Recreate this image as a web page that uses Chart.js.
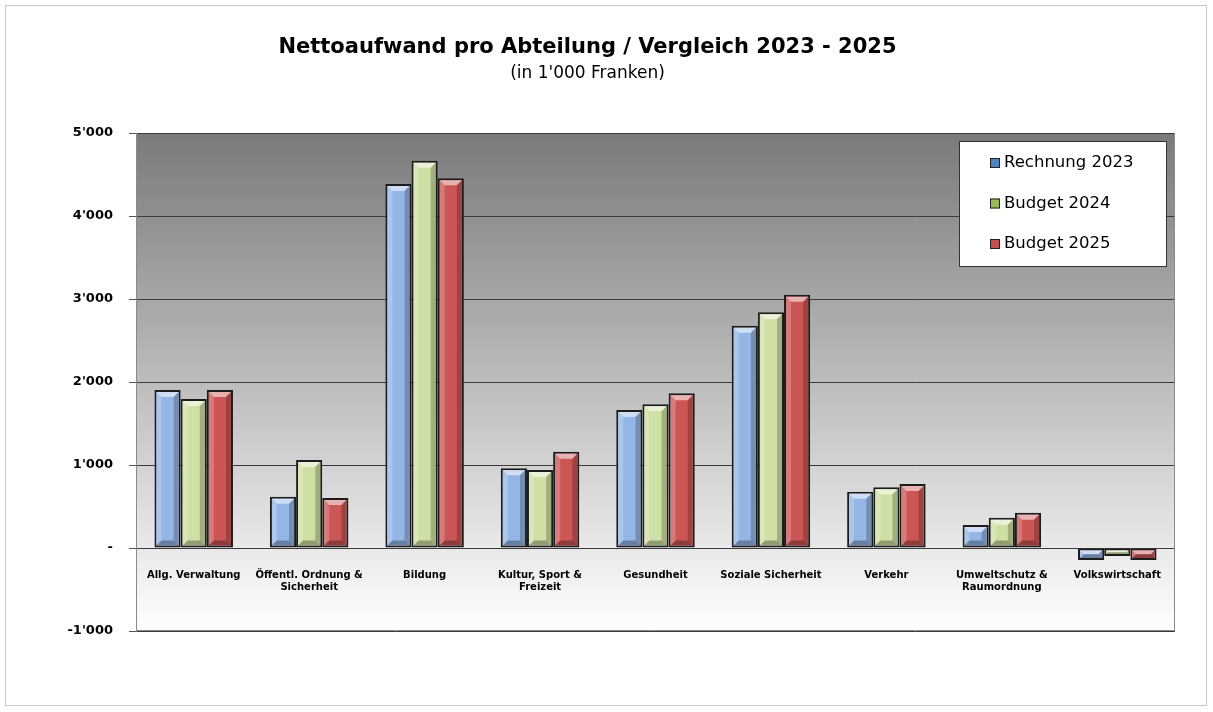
<!DOCTYPE html>
<html><head><meta charset="utf-8">
<script src="https://cdn.jsdelivr.net/npm/chart.js@4.4.1/dist/chart.umd.min.js"></script>
<style>html,body{margin:0;padding:0;background:#fff}#wrap{width:1213px;height:712px;position:relative}</style>
</head><body><div id="wrap"><canvas id="c"></canvas></div>
<script>
const categories = ["Allg. Verwaltung", ["Öffentl. Ordnung &", "Sicherheit"], "Bildung", ["Kultur, Sport &", "Freizeit"], "Gesundheit", "Soziale Sicherheit", "Verkehr", ["Umweltschutz &", "Raumordnung"], "Volkswirtschaft"];
const seriesNames = ["Rechnung 2023", "Budget 2024", "Budget 2025"];
const rechnung2023 = [1905, 618, 4386, 960, 1663, 2678, 678, 277, -145];
const budget2024 = [1795, 1060, 4666, 940, 1731, 2840, 731, 365, -96];
const budget2025 = [1905, 602, 4454, 1160, 1864, 3052, 771, 425, -145];
const yMin = -1000, yMax = 5000, yStep = 1000;
const titleText = "Nettoaufwand pro Abteilung / Vergleich 2023 - 2025";
const subtitleText = "(in 1'000 Franken)";

const barColors = ["#94b6e6", "#cfe0a4", "#cc5555"];
const legendColors = ["#4f81bd", "#9bbb59", "#c0504d"];
const FONT = "'DejaVu Sans', sans-serif";

function fmt(v){
  if (v === 0) return "-";
  const s = Math.abs(v).toString().replace(/\B(?=(\d{3})+(?!\d))/g, "'");
  return (v < 0 ? "-" : "") + s;
}

const bgPlugin = {
  id: 'bg',
  beforeDraw(chart){
    const {ctx, chartArea:a} = chart;
    ctx.save();
    ctx.strokeStyle = '#c8c8c8'; ctx.lineWidth = 1;
    ctx.strokeRect(5.5, 5.5, 1201, 700);
    const g = ctx.createLinearGradient(0, a.top, 0, a.bottom);
    g.addColorStop(0, '#7a7a7a'); g.addColorStop(1, '#ffffff');
    ctx.fillStyle = g;
    ctx.fillRect(a.left, a.top, a.right - a.left, a.bottom - a.top);
    ctx.restore();
  },
  afterDraw(chart){
    const {ctx, chartArea:a} = chart;
    ctx.save();
    ctx.strokeStyle = '#8a8a8a'; ctx.lineWidth = 1;
    ctx.beginPath();
    ctx.moveTo(a.right - 0.5, a.top); ctx.lineTo(a.right - 0.5, a.bottom - 0.5); ctx.lineTo(a.left, a.bottom - 0.5);
    ctx.stroke();
    ctx.restore();
  }
};

const bevelPlugin = {
  id: 'bevel',
  afterDatasetsDraw(chart){
    const ctx = chart.ctx;
    chart.data.datasets.forEach((ds, di) => {
      chart.getDatasetMeta(di).data.forEach(el => {
        const p = el.getProps(['x','y','base','width'], true);
        const l = p.x - p.width/2 + 2, r = p.x + p.width/2 - 2;
        const t = Math.min(p.y, p.base) + 2, b = Math.max(p.y, p.base) - 2;
        const h = b - t, w = r - l;
        if (h <= 0 || w <= 0) return;
        const bv = Math.min(5, h/2, w/4);
        ctx.save();
        ctx.fillStyle = 'rgba(255,255,255,0.55)';
        ctx.beginPath(); ctx.moveTo(l,t); ctx.lineTo(r,t); ctx.lineTo(r-bv,t+bv); ctx.lineTo(l+bv,t+bv); ctx.closePath(); ctx.fill();
        ctx.fillStyle = 'rgba(255,255,255,0.22)';
        ctx.beginPath(); ctx.moveTo(l,t); ctx.lineTo(l+bv,t+bv); ctx.lineTo(l+bv,b-bv); ctx.lineTo(l,b); ctx.closePath(); ctx.fill();
        ctx.fillStyle = 'rgba(0,0,0,0.22)';
        ctx.beginPath(); ctx.moveTo(r,t); ctx.lineTo(r,b); ctx.lineTo(r-bv,b-bv); ctx.lineTo(r-bv,t+bv); ctx.closePath(); ctx.fill();
        ctx.fillStyle = 'rgba(0,0,0,0.3)';
        ctx.beginPath(); ctx.moveTo(l,b); ctx.lineTo(r,b); ctx.lineTo(r-bv,b-bv); ctx.lineTo(l+bv,b-bv); ctx.closePath(); ctx.fill();
        ctx.restore();
      });
    });
  }
};

const legendPlugin = {
  id: 'boxLegend',
  afterDraw(chart){
    const ctx = chart.ctx;
    const x0 = 959.5, y0 = 141.5, w = 207, h = 125;
    ctx.save();
    ctx.fillStyle = '#ffffff'; ctx.fillRect(x0, y0, w, h);
    ctx.strokeStyle = '#333'; ctx.lineWidth = 1; ctx.strokeRect(x0, y0, w, h);
    ctx.font = "16.5px " + FONT; ctx.textBaseline = 'middle'; ctx.textAlign = 'left';
    chart.data.datasets.forEach((ds, i) => {
      const cy = 163 + i * 40.5;
      ctx.fillStyle = legendColors[i]; ctx.fillRect(990, cy - 5, 10, 10);
      ctx.strokeStyle = '#222'; ctx.strokeRect(990.5, cy - 4.5, 9, 9);
      ctx.fillStyle = '#000'; ctx.fillText(ds.label, 1004, cy);
    });
    ctx.restore();
  }
};

const datasets = [rechnung2023, budget2024, budget2025].map((d, i) => ({
  label: seriesNames[i], data: d, backgroundColor: barColors[i],
  borderColor: '#1c1c1c', borderWidth: 2, borderSkipped: false,
  barPercentage: 1.0, categoryPercentage: 0.68
}));

new Chart(document.getElementById('c'), {
  type: 'bar',
  data: { labels: categories, datasets },
  plugins: [bgPlugin, bevelPlugin, legendPlugin],
  options: {
    responsive: true, maintainAspectRatio: false, animation: false,
    layout: { padding: { left: 0, right: 38, bottom: 81, top: 0 } },
    plugins: {
      legend: { display: false },
      tooltip: { enabled: false },
      title: { display: true, text: titleText, color: '#000', font: { family: FONT, size: 21, weight: 'bold' }, padding: { top: 35, bottom: 2 } },
      subtitle: { display: true, text: subtitleText, color: '#000', font: { family: FONT, size: 17 }, padding: { top: 1, bottom: 49.4 } }
    },
    scales: {
      x: {
        position: { y: 0 },
        grid: { display: false, drawTicks: false },
        border: { display: false },
        ticks: { color: '#000', font: { family: FONT, size: 10, weight: 'bold' }, padding: 21, maxRotation: 0, autoSkip: false }
      },
      y: {
        min: yMin, max: yMax,
        afterFit(s){ s.width = 136; },
        grid: { color: '#3a3a3a', lineWidth: 1, tickLength: 7, tickColor: '#555' },
        border: { display: true, color: '#8a8a8a' },
        ticks: { stepSize: yStep, color: '#000', padding: 16, font: { family: FONT, size: 13, weight: 'bold' }, callback: v => fmt(v) }
      }
    }
  }
});
</script></body></html>
